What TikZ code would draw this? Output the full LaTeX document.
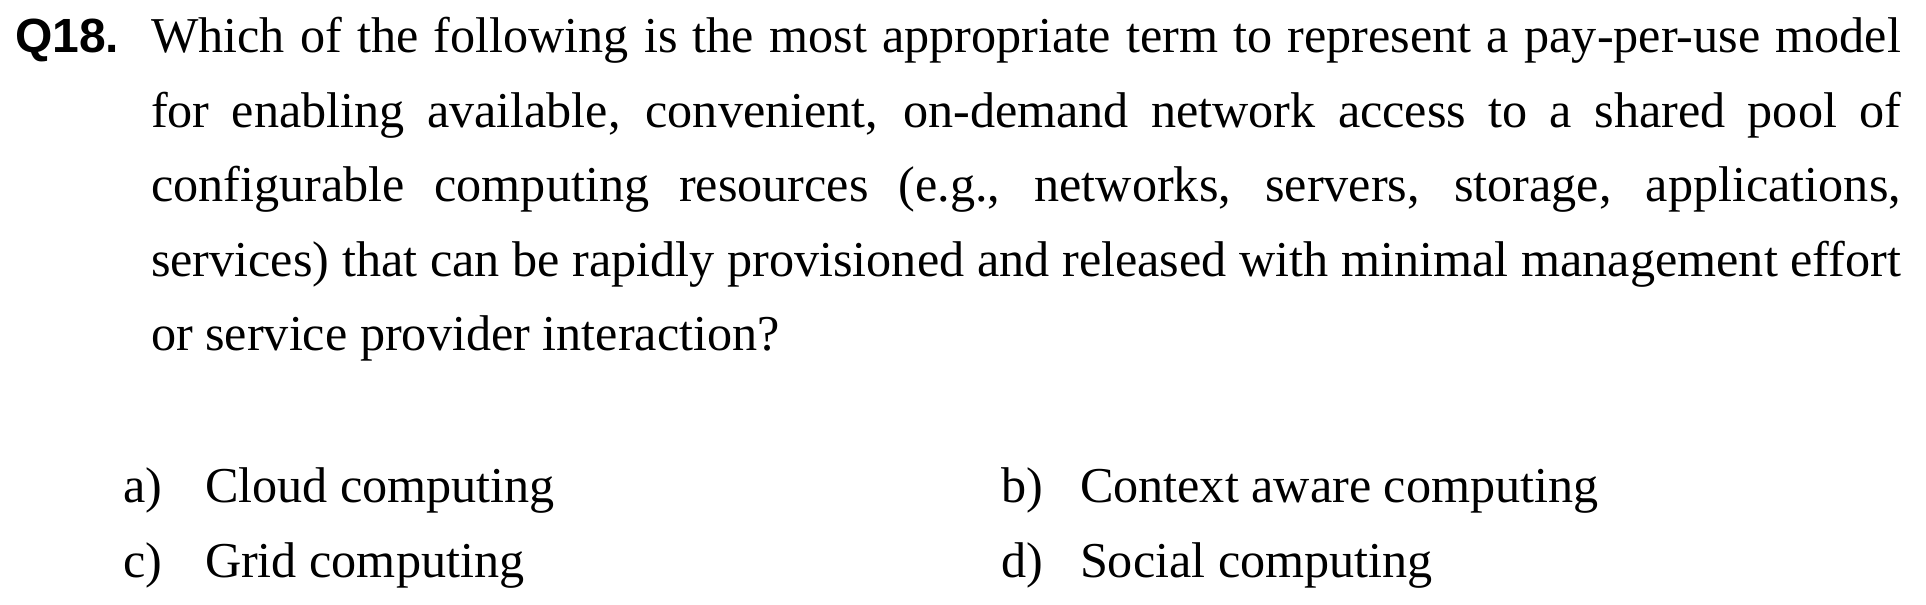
\documentclass[tikz,border=0pt]{standalone}
\usepackage{fontspec}
\setmainfont{Liberation Serif}
\newfontfamily\qfont{Liberation Sans}
\newcommand\justline[1]{\makebox[437.5pt][s]{#1}}
\tikzset{
  txt/.style={anchor=base west, inner sep=0pt, outer sep=0pt, font=\fontsize{12.55pt}{15pt}\selectfont},
  qnum/.style={anchor=base west, inner sep=0pt, outer sep=0pt, font=\qfont\bfseries\fontsize{12pt}{14pt}\selectfont}
}
\begin{document}
\begin{tikzpicture}[x=0.25pt,y=-0.25pt]
\useasboundingbox (0,0) rectangle (1926,604);
\node[qnum] (q) at (15,52) {Q18.};
\node[txt] (l1) at (151,52) {\justline{Which of the following is the most appropriate term to represent a pay-per-use model}};
\node[txt] (l2) at (151,127) {\justline{for enabling available, convenient, on-demand network access to a shared pool of}};
\node[txt] (l3) at (151,201.5) {\justline{configurable computing resources (e.g., networks, servers, storage, applications,}};
\node[txt] (l4) at (151,276) {\justline{services) that can be rapidly provisioned and released with minimal management effort}};
\node[txt] (l5) at (151,350.5) {or service provider interaction?};
\node[txt] (la) at (123,502.5) {a)};
\node[txt] (ta) at (205,502.5) {Cloud computing};
\node[txt] (lb) at (1001,502.5) {b)};
\node[txt] (tb) at (1080,502.5) {Context aware computing};
\node[txt] (lc) at (123,577) {c)};
\node[txt] (tc) at (205,577) {Grid computing};
\node[txt] (ld) at (1001,577) {d)};
\node[txt] (td) at (1080,577) {Social computing};
\end{tikzpicture}
\end{document}
